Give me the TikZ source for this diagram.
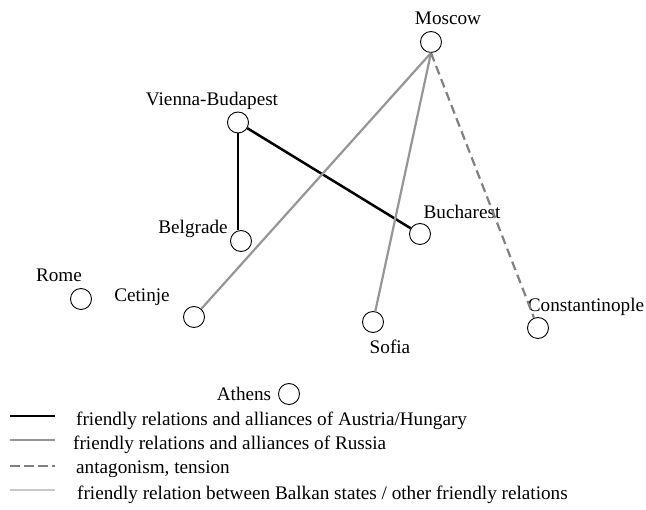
\documentclass[tikz,border=0pt]{standalone}
\usepackage{fontspec}
\setmainfont{Liberation Serif}
\definecolor{rusgray}{RGB}{150,150,150}
\definecolor{tengray}{RGB}{128,128,128}
\definecolor{balgray}{RGB}{200,200,200}
\begin{document}
\begin{tikzpicture}[x=1pt,y=-1pt,
  city/.style={circle,draw,line width=0.9pt,minimum size=21pt,inner sep=0pt},
  lbl/.style={anchor=base,inner sep=0pt,font=\fontsize{19.2}{22}\selectfont},
  legtext/.style={lbl,anchor=base west},
  austrialine/.style={line width=2.5pt,black},
  russialine/.style={line width=2.2pt,rusgray},
  tensionline/.style={line width=2.2pt,tengray,dash pattern=on 9pt off 5pt},
  balkanline/.style={line width=2.2pt,balgray}]
\useasboundingbox[fill=white] (0,0) rectangle (646,510);

% cities
\node[city] (mos) at (431,42) {};
\node[city] (vie) at (238,122.5) {};
\node[city] (bel) at (241,241) {};
\node[city] (buc) at (420,234) {};
\node[city] (rom) at (81,299) {};
\node[city] (cet) at (194,317) {};
\node[city] (sof) at (373,322) {};
\node[city] (con) at (538,328) {};
\node[city] (ath) at (289,394) {};

% city names
\node[lbl] (mosL) at (448,25) {Moscow};
\node[lbl] (vieL) at (212,106) {Vienna-Budapest};
\node[lbl] (belL) at (193,234) {Belgrade};
\node[lbl] (bucL) at (462,219) {Bucharest};
\node[lbl] (romL) at (59,282) {Rome};
\node[lbl] (cetL) at (142,302) {Cetinje};
\node[lbl] (sofL) at (390,354) {Sofia};
\node[lbl] (conL) at (586,312) {Constantinople};
\node[lbl] (athL) at (244,401) {Athens};

% relations
\draw[austrialine] (vie.south) -- (bel.north -| vie.south);
\draw[austrialine] (vie) -- (buc);
\draw[russialine] (mos.south) -- (cet);
\draw[russialine] (mos.south) -- (sof);
\draw[tensionline] (mos.south) -- (con);

% legend
\coordinate (k1a) at (10,416); \coordinate (k1b) at (55,416);
\coordinate (k2a) at (10,440); \coordinate (k2b) at (55,440);
\coordinate (k3a) at (10,466); \coordinate (k3b) at (55,466);
\coordinate (k4a) at (10,490); \coordinate (k4b) at (55,490);
\draw[austrialine] (k1a) -- (k1b);
\draw[russialine] (k2a) -- (k2b);
\draw[tensionline,line width=2.6pt,dash pattern=on 10pt off 4pt] (k3a) -- (k3b);
\draw[balkanline] (k4a) -- (k4b);
\node[legtext] (t1) at (76,426) {friendly relations and alliances of Austria/Hungary};
\node[legtext] (t2) at (73,450) {friendly relations and alliances of Russia};
\node[legtext] (t3) at (76,474) {antagonism, tension};
\node[legtext] (t4) at (77,500) {friendly relation between Balkan states / other friendly relations};
\end{tikzpicture}
\end{document}
